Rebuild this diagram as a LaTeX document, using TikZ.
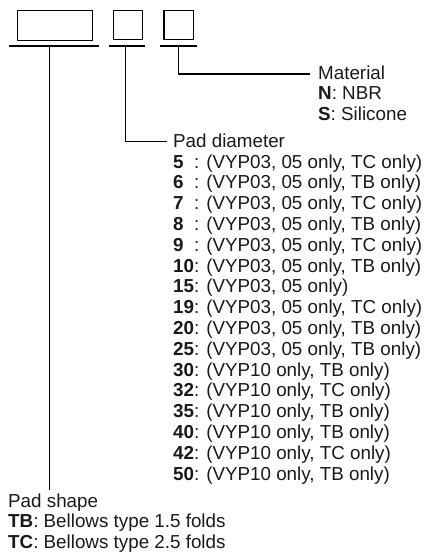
\documentclass[tikz,border=0pt]{standalone}
\usepackage{fontspec}
\setmainfont{Liberation Sans}
\begin{document}
\begin{tikzpicture}[x=1pt,y=-1pt,
  box/.style={draw,line width=1.3pt,inner sep=0pt,anchor=north west},
  ln/.style={line width=1.3pt},
  lbl/.style={inner sep=0pt,anchor=base west,font=\fontsize{18.8}{20.8}\selectfont,text=black!90}]
\useasboundingbox (0,0) rectangle (424,552);
% code boxes
\node[box,minimum width=75pt,minimum height=30pt] (b1) at (16.7,10) {};
\node[box,minimum width=29pt,minimum height=29pt] (b2) at (112.7,10) {};
\node[box,minimum width=29.4pt,minimum height=29pt] (b3) at (163.3,10) {};
% underlines
\coordinate (u1l) at (9,46);   \coordinate (u1r) at (99.3,46);
\coordinate (u2l) at (109,46); \coordinate (u2r) at (145.3,46);
\coordinate (u3l) at (160,46); \coordinate (u3r) at (196.7,46);
\draw[ln] (u1l) -- (u1r);
\draw[ln] (u2l) -- (u2r);
\draw[ln] (u3l) -- (u3r);
% labels
\node[lbl] (mat) at (318,79) {Material};
\node[lbl] (matn) at (318,99.8) {\textbf{N}: NBR};
\node[lbl] (mats) at (318,120.6) {\textbf{S}: Silicone};
\node[lbl] (dia) at (173,147.2) {Pad diameter};
\foreach \n/\t [count=\i from 0] in {
  5/{(VYP03, 05 only, TC only)},
  6/{(VYP03, 05 only, TB only)},
  7/{(VYP03, 05 only, TC only)},
  8/{(VYP03, 05 only, TB only)},
  9/{(VYP03, 05 only, TC only)},
  10/{(VYP03, 05 only, TB only)},
  15/{(VYP03, 05 only)},
  19/{(VYP03, 05 only, TC only)},
  20/{(VYP03, 05 only, TB only)},
  25/{(VYP03, 05 only, TB only)},
  30/{(VYP10 only, TB only)},
  32/{(VYP10 only, TC only)},
  35/{(VYP10 only, TB only)},
  40/{(VYP10 only, TB only)},
  42/{(VYP10 only, TC only)},
  50/{(VYP10 only, TB only)}}
  \node[lbl] (d\i) at (173,168+\i*20.8) {\makebox[20.9pt][l]{\textbf{\n}}: \t};
\node[lbl] (shp) at (8,507.5) {Pad shape};
\node[lbl] (shptb) at (8,527.8) {\textbf{TB}: Bellows type 1.5 folds};
\node[lbl] (shptc) at (8,548.1) {\textbf{TC}: Bellows type 2.5 folds};
% connectors
\coordinate (c1) at (49.3,46);  \coordinate (e1) at (49.3,490);
\coordinate (c2) at (125.7,46); \coordinate (e2) at (167,141.5);
\coordinate (c3) at (178.3,46); \coordinate (e3) at (310,74);
\draw[ln] (c1) -- (e1);
\draw[ln] (c2) |- (e2);
\draw[ln] (c3) |- (e3);
\end{tikzpicture}
\end{document}
